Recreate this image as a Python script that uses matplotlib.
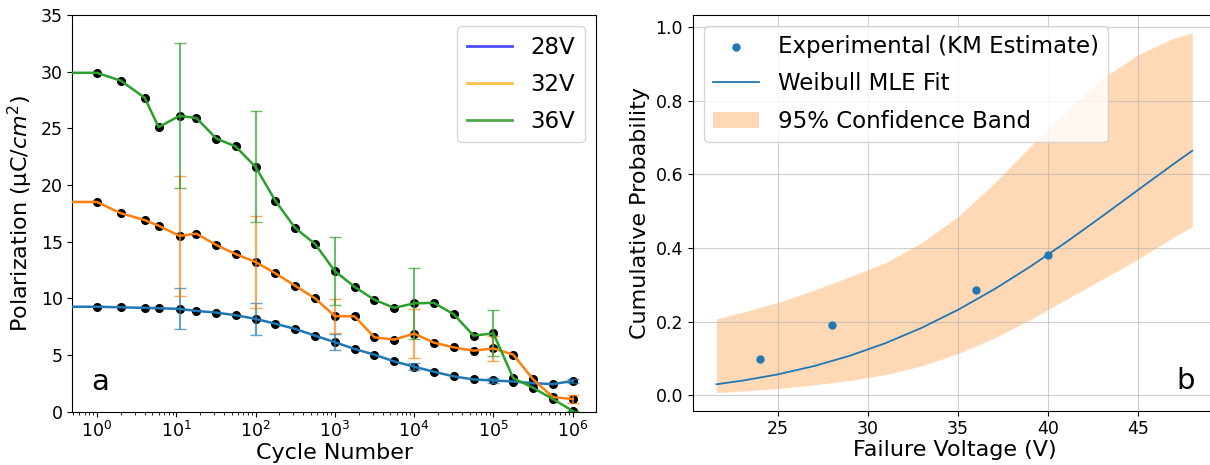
import numpy as np
import matplotlib
matplotlib.use('Agg')
import matplotlib.pyplot as plt
from matplotlib.lines import Line2D

# Panel a: remnant polarization vs. cycling at three voltages
cycles = [0, 1, 2, 4, 6, 11, 18, 32, 56, 100, 178, 316, 562, 1000, 1778, 3162,
          5623, 1e4, 17783, 31623, 56234, 1e5, 177828, 316228, 562341, 1e6]
pol_28v = [9.25, 9.25, 9.2, 9.15, 9.12, 9.06, 8.88, 8.73, 8.5, 8.18, 7.75, 7.29, 6.7,
           6.12, 5.52, 5.02, 4.42, 3.96, 3.51, 3.1, 2.83, 2.74, 2.65, 2.5, 2.42, 2.7]
pol_32v = [18.5, 18.5, 17.5, 16.9, 16.4, 15.5, 15.7, 14.7, 13.9, 13.2, 12.2, 11.1, 10.0,
           8.42, 8.4, 6.55, 6.35, 6.88, 6.08, 5.66, 5.37, 5.57, 5.02, 2.85, 1.27, 1.1]
pol_36v = [29.9, 29.9, 29.2, 27.7, 25.1, 26.1, 25.9, 24.1, 23.4, 21.6, 18.6, 16.2, 14.8,
           12.4, 11.0, 9.86, 9.15, 9.55, 9.59, 8.58, 6.7, 6.9, 2.95, 2.1, 1.1, 0.05]

# error bars only at the decade points
err_idx = [5, 9, 13, 17, 21, 25]
err_28v = [1.8, 1.4, 0.72, 0.32, 0.22, 0.2]
err_32v = [5.3, 4.05, 1.5, 2.17, 1.07, 0.37]
err_36v = [6.4, 4.9, 3.04, 3.14, 2.03, 0.0]

series_labels = ['28V', '32V', '36V']
decade_ticks = [1, 10, 100, 1e3, 1e4, 1e5, 1e6]

# Panel b: Weibull analysis of failure voltage
km_voltage = [24, 28, 36, 40]
km_prob = [0.097, 0.19, 0.286, 0.38]

fit_voltage = [21.6, 23, 25, 27, 29, 31, 33, 35, 37, 39, 41, 43, 45, 47, 48]
fit_prob = [0.0297, 0.0392, 0.0565, 0.0789, 0.1071, 0.1418, 0.1833, 0.2319,
            0.2873, 0.349, 0.4156, 0.4859, 0.5579, 0.6293, 0.664]
band_lower = [0.007, 0.011, 0.018, 0.028, 0.04, 0.056, 0.08, 0.113,
              0.155, 0.205, 0.26, 0.315, 0.37, 0.43, 0.458]
band_upper = [0.207, 0.225, 0.252, 0.285, 0.322, 0.36, 0.415, 0.485,
              0.575, 0.675, 0.77, 0.86, 0.925, 0.97, 0.985]

LABEL_SIZE = 16
LEGEND_SIZE = 16.5
TICK_SIZE = 12.5

fig = plt.figure(figsize=(12.1, 4.65), dpi=100)
ax1 = fig.add_axes([0.0598, 0.115, 0.4328, 0.8527])
ax2 = fig.add_axes([0.5725, 0.117, 0.4325, 0.8516])

# ---- panel a ----
colors = ['tab:blue', 'tab:orange', 'tab:green']
x = np.array(cycles, dtype=float)
for y, err, c in zip([pol_28v, pol_32v, pol_36v], [err_28v, err_32v, err_36v], colors):
    y = np.array(y)
    ax1.plot(x, y, color=c, lw=1.8, zorder=3)
    ax1.plot(x[1:], y[1:], 'o', color='black', ms=5.5, zorder=2)
    ax1.errorbar(x[err_idx], y[err_idx], yerr=err, fmt='none', ecolor=c,
                 alpha=0.7, capsize=4, elinewidth=1.5, zorder=2.5)

ax1.set_xscale('log', nonpositive='clip')
ax1.set_xticks(decade_ticks)
ax1.set_xlim(0.49, 1.97e6)
ax1.set_ylim(0, 35)
ax1.set_xlabel('Cycle Number', fontsize=LABEL_SIZE, labelpad=1)
ax1.set_ylabel('Polarization (µC/$cm^2$)', fontsize=LABEL_SIZE)
ax1.tick_params(labelsize=TICK_SIZE)

handles = [Line2D([0], [0], color=c, alpha=0.7, lw=2)
           for c in ['blue', 'orange', 'green']]
ax1.legend(handles, series_labels, loc='upper right', fontsize=LEGEND_SIZE,
           labelspacing=0.62)
ax1.text(0.053, 0.054, 'a', transform=ax1.transAxes, ha='center',
         va='baseline', fontsize=21)

# ---- panel b ----
ax2.scatter(km_voltage, km_prob, s=25, color='tab:blue', zorder=3,
            label='Experimental (KM Estimate)')
ax2.plot(fit_voltage, fit_prob, color='tab:blue', lw=1.3, label='Weibull MLE Fit')
ax2.fill_between(fit_voltage, band_lower, band_upper, color='tab:orange',
                 alpha=0.3, lw=0, label='95% Confidence Band')
ax2.grid(True, alpha=0.6)
ax2.set_xlabel('Failure Voltage (V)', fontsize=LABEL_SIZE, labelpad=1)
ax2.set_ylabel('Cumulative Probability', fontsize=LABEL_SIZE)
ax2.tick_params(labelsize=TICK_SIZE)
ax2.legend(loc='upper left', fontsize=LEGEND_SIZE, labelspacing=0.62)
ax2.text(0.941, 0.055, 'b', transform=ax2.transAxes, ha='center',
         va='baseline', fontsize=21)

fig.savefig('out.png', dpi=100)
